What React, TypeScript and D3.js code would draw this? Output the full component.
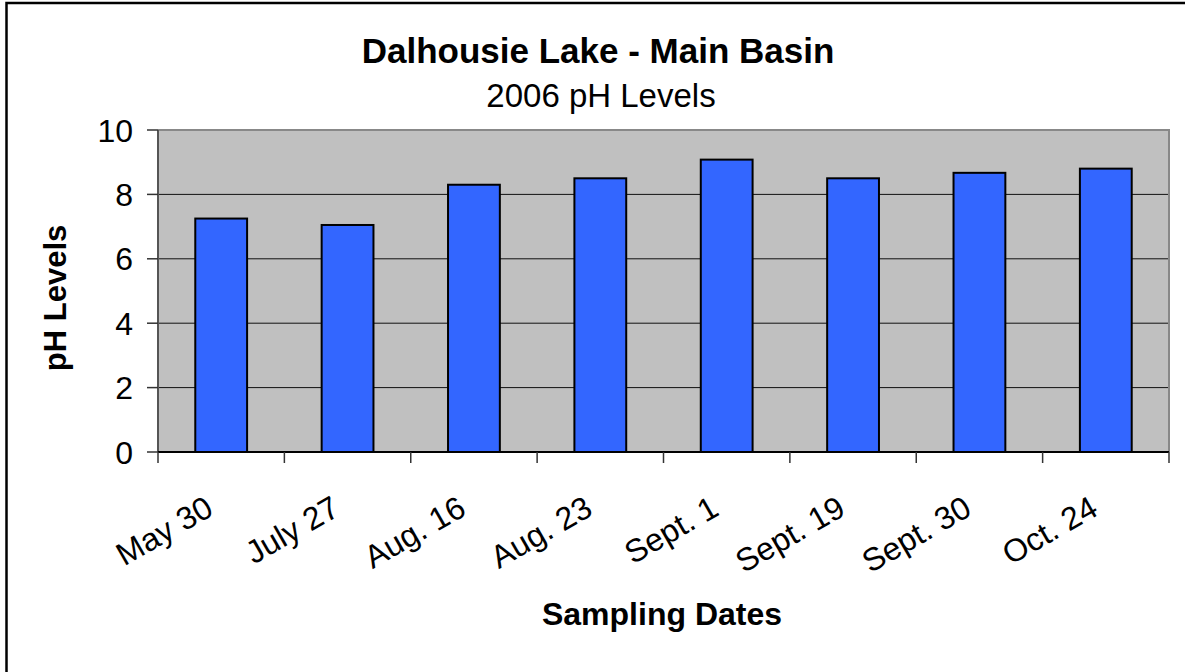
import React from 'react'
import * as d3 from 'd3'

const dates = ['May 30', 'July 27', 'Aug. 16', 'Aug. 23', 'Sept. 1', 'Sept. 19', 'Sept. 30', 'Oct. 24']
const phValues = [7.25, 7.05, 8.3, 8.5, 9.08, 8.5, 8.67, 8.8]
const yTicks = [0, 2, 4, 6, 8, 10]

const FONT = '"Liberation Sans", Arial, sans-serif'

const App = () => {
  const width = 1185
  const height = 672
  const plot = { left: 158, right: 1169, top: 130, bottom: 452 }

  const x = d3
    .scaleBand<string>()
    .domain(dates)
    .range([plot.left, plot.right])
    .paddingInner(0.59)
    .paddingOuter(0.295)
  const step = (plot.right - plot.left) / dates.length
  const y = d3.scaleLinear().domain([0, 10]).range([plot.bottom, plot.top])

  const xCenter = (d: string) => (x(d) as number) + x.bandwidth() / 2

  return (
    <svg
      width={width}
      height={height}
      style={{ position: 'absolute', left: 0, top: 0, background: '#fff' }}
      fontFamily={FONT}
    >
      {/* outer frame, only left and top edges show */}
      <rect x={6.5} y={3} width={width + 10} height={height + 10} fill='none' stroke='#000' strokeWidth={2.5} />

      {/* titles */}
      <text x={598} y={63} textAnchor='middle' fontSize={35} fontWeight='bold' fill='#000'>
        Dalhousie Lake - Main Basin
      </text>
      <text x={601} y={107} textAnchor='middle' fontSize={33} fill='#000'>
        2006 pH Levels
      </text>

      {/* plot area */}
      <rect
        x={plot.left}
        y={plot.top}
        width={plot.right - plot.left}
        height={plot.bottom - plot.top}
        fill='#C0C0C0'
      />
      {yTicks
        .filter((t) => t > 0 && t < 10)
        .map((t) => (
          <line key={t} x1={plot.left} x2={plot.right} y1={y(t)} y2={y(t)} stroke='#111' strokeWidth={1} />
        ))}
      <polyline
        points={`${plot.left},${plot.top} ${plot.right},${plot.top} ${plot.right},${plot.bottom}`}
        fill='none'
        stroke='#888'
        strokeWidth={2}
      />

      {/* bars */}
      {dates.map((d, i) => (
        <rect
          key={d}
          x={x(d)}
          y={y(phValues[i])}
          width={x.bandwidth()}
          height={y(0) - y(phValues[i])}
          fill='#3366FF'
          stroke='#000'
          strokeWidth={2}
        />
      ))}

      {/* y axis */}
      <line x1={plot.left} x2={plot.left} y1={plot.top} y2={plot.bottom} stroke='#555' strokeWidth={2} />
      {yTicks.map((t) => (
        <g key={t}>
          <line x1={plot.left - 11} x2={plot.left} y1={y(t)} y2={y(t)} stroke='#333' strokeWidth={1.5} />
          <text x={133} y={y(t)} dy='0.36em' textAnchor='end' fontSize={32} fill='#000'>
            {t}
          </text>
        </g>
      ))}

      {/* x axis */}
      <line x1={plot.left} x2={plot.right} y1={plot.bottom} y2={plot.bottom} stroke='#000' strokeWidth={2} />
      {d3.range(dates.length + 1).map((i) => (
        <line
          key={i}
          x1={plot.left + i * step}
          x2={plot.left + i * step}
          y1={plot.bottom}
          y2={plot.bottom + 11}
          stroke='#333'
          strokeWidth={1.5}
        />
      ))}
      {dates.map((d) => (
        <text
          key={d}
          transform={`translate(${xCenter(d) - 6}, 514) rotate(-30)`}
          textAnchor='end'
          fontSize={32}
          fill='#000'
        >
          {d}
        </text>
      ))}

      {/* axis titles */}
      <text
        transform={`translate(66, 298) rotate(-90)`}
        textAnchor='middle'
        fontSize={31}
        fontWeight='bold'
        fill='#000'
      >
        pH Levels
      </text>
      <text x={662} y={625} textAnchor='middle' fontSize={32} fontWeight='bold' fill='#000'>
        Sampling Dates
      </text>
    </svg>
  )
}

export default App
